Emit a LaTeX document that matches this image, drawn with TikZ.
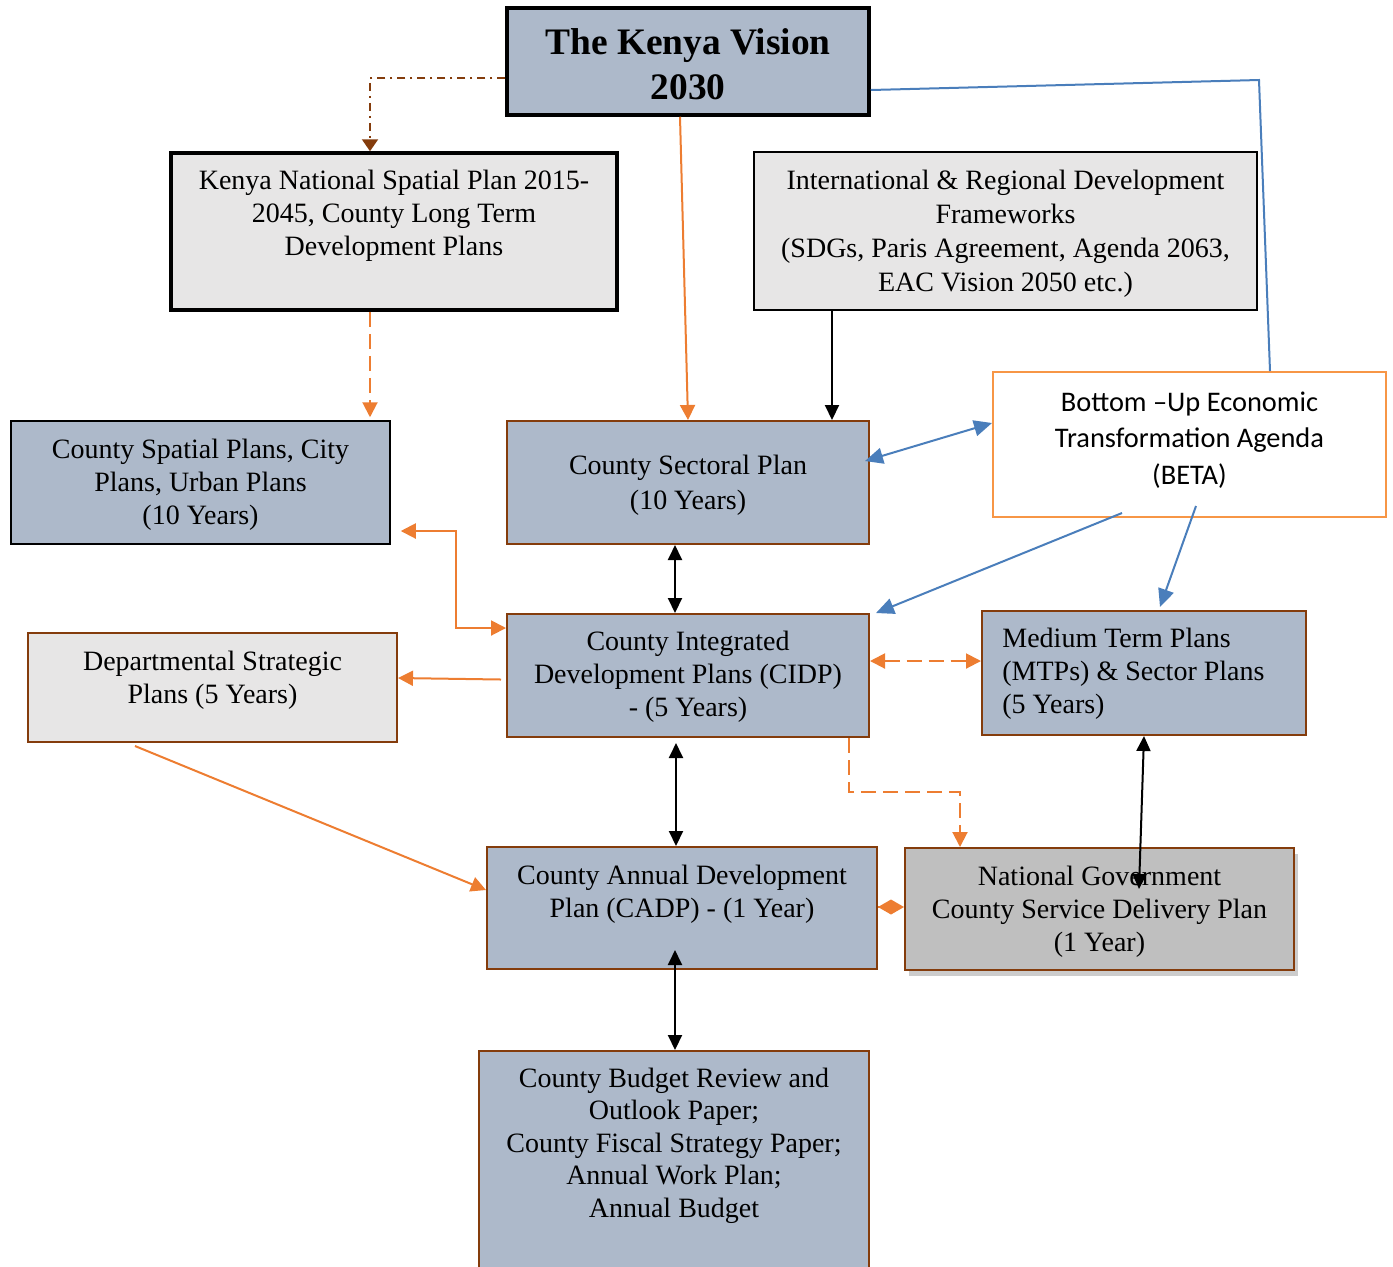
\documentclass[tikz,border=0pt]{standalone}
\usepackage{fontspec}
\setmainfont{Liberation Serif}
\newfontfamily\betafont{Carlito}
\usetikzlibrary{arrows.meta,shadows}

\definecolor{bluegrey}{HTML}{ADB9CA}
\definecolor{lightgrey}{HTML}{E7E6E6}
\definecolor{midgrey}{HTML}{BFBFBF}
\definecolor{brownline}{HTML}{843C0C}
\definecolor{orangeline}{HTML}{ED7D31}
\definecolor{betaorange}{HTML}{F79646}
\definecolor{blueline}{HTML}{4A7EBB}

\tikzstyle{plan} = [draw=brownline, fill=bluegrey, line width=1pt, inner sep=0]
\tikzstyle{txt} = [inner sep=0, yshift=-1.25pt, align=center, font=\fontsize{14}{16.5}\selectfont]
\tikzstyle{orangearr} = [orangeline, line width=1pt, -{Triangle[length=7.5pt,width=7.5pt]}]
\tikzstyle{orangedbl} = [orangeline, line width=1pt, {Triangle[length=7.5pt,width=7.5pt]}-{Triangle[length=7.5pt,width=7.5pt]}]
\tikzstyle{blackarr} = [black, line width=1pt, -{Triangle[length=7.5pt,width=7pt]}]
\tikzstyle{blackdbl} = [black, line width=1pt, {Triangle[length=7.5pt,width=7pt]}-{Triangle[length=7.5pt,width=7pt]}]
\tikzstyle{bluearr} = [blueline, line width=1pt, -{Triangle[length=9pt,width=8pt]}]
\tikzstyle{bluedbl} = [blueline, line width=1pt, {Triangle[length=9pt,width=8pt]}-{Triangle[length=9pt,width=8pt]}]
\tikzstyle{wordash} = [dash pattern=on 7.5pt off 3.5pt]

\begin{document}
\begin{tikzpicture}[x=0.5pt, y=-0.5pt]
\useasboundingbox (0,0) rectangle (1393,1266);
\clip (0,0) rectangle (1393,1266);

\node[plan, draw=black, line width=1.75pt, minimum width=181pt, minimum height=53.5pt] (vision) at (688,61.5) {};
\node[txt, font=\bfseries\fontsize{18.7}{22.5}\selectfont] (visionT) at (vision) {The Kenya Vision\\2030};

\node[plan, draw=black, line width=1.75pt, fill=lightgrey, minimum width=223pt, minimum height=78.5pt] (knsp) at (394,231.5) {};
\node[txt] (knspT) at ([yshift=9pt]knsp) {Kenya National Spatial Plan 2015-\\2045, County Long Term\\Development Plans};

\node[plan, draw=black, fill=lightgrey, minimum width=251.5pt, minimum height=79pt] (intl) at (1005.5,231) {};
\node[txt, font=\fontsize{14}{17}\selectfont] (intlT) at (intl) {International \& Regional Development\\Frameworks\\(SDGs, Paris Agreement, Agenda 2063,\\EAC Vision 2050 etc.)};

\node[plan, draw=betaorange, fill=white, minimum width=196.5pt, minimum height=72.5pt] (beta) at (1189.5,444.5) {};
\node[txt, font=\betafont\fontsize{14.2}{18.25}\selectfont] (betaT) at ([yshift=3.5pt]beta) {Bottom –Up Economic\\Transformation Agenda\\(BETA)};

\node[plan, draw=black, line width=0.75pt, minimum width=189.5pt, minimum height=61.5pt] (spatial) at (200.5,482.5) {};
\node[txt] (spatialT) at (spatial) {County Spatial Plans, City\\Plans, Urban Plans\\(10 Years)};

\node[plan, minimum width=181pt, minimum height=61.5pt] (sectoral) at (688,482.5) {};
\node[txt, font=\fontsize{14}{17.5}\selectfont] (sectoralT) at (sectoral) {County Sectoral Plan\\(10 Years)};

\node[plan, minimum width=181pt, minimum height=61.5pt] (cidp) at (688,675.5) {};
\node[txt] (cidpT) at ([yshift=0.5pt]cidp) {County Integrated\\Development Plans (CIDP)\\- (5 Years)};

\node[plan, minimum width=162pt, minimum height=62pt] (mtp) at (1144,673) {};
\node[txt, align=left, anchor=west] (mtpT) at ([xshift=10.5pt,yshift=1pt]mtp.west) {Medium Term Plans\\(MTPs) \& Sector Plans\\(5 Years)};

\node[plan, fill=lightgrey, minimum width=184.5pt, minimum height=54.5pt] (dept) at (212.5,687.5) {};
\node[txt] (deptT) at ([yshift=5pt]dept) {Departmental Strategic\\Plans (5 Years)};

\node[plan, minimum width=195pt, minimum height=61pt] (cadp) at (682,908) {};
\node[txt] (cadpT) at ([yshift=8pt]cadp) {County Annual Development\\Plan (CADP) - (1 Year)};

\node[plan, fill=midgrey, minimum width=194.5pt, minimum height=61pt,
  drop shadow={shadow xshift=2pt, shadow yshift=-3pt, fill=black!20, opacity=1}] (natgov) at (1099.5,909) {};
\node[txt] (natgovT) at (natgov) {National Government\\County Service Delivery Plan\\(1 Year)};

\node[plan, minimum width=195pt, minimum height=119.5pt] (budget) at (674,1170.5) {};
\node[txt, font=\fontsize{14}{16.25}\selectfont] (budgetT) at ([yshift=-46.5pt]budget.north) {County Budget Review and\\Outlook Paper;\\County Fiscal Strategy Paper;\\Annual Work Plan;\\Annual Budget};

\coordinate (bend) at (1259,80);

\draw[brownline, line width=1pt, dash pattern=on 4pt off 2.5pt on 1pt off 2.5pt, -{Triangle[length=6pt,width=8pt]}] ([yshift=-8.25pt]vision.west) -| ([xshift=-12pt]knsp.north);
\draw[orangearr] ([xshift=-4pt]vision.south) -- (sectoral.north);
\draw[blueline, line width=1pt] ([yshift=-14.25pt]vision.east) -- (bend) -- ([xshift=40.25pt]beta.north);
\draw[blackarr] ([xshift=-86.75pt]intl.south) -- ([xshift=-86.75pt]intl.south |- sectoral.north);
\draw[orangearr, wordash] ([xshift=-12pt]knsp.south) -- ([xshift=-12pt,yshift=1.5pt]knsp.south |- spatial.north);
\draw[bluedbl] ([xshift=-2.5pt,yshift=10.75pt]sectoral.east) -- ([yshift=10.75pt]beta.west);
\draw[blackdbl] ([xshift=-6.5pt]sectoral.south) -- ([xshift=-6.5pt]sectoral.south |- cidp.north);
\draw[orangedbl] ([xshift=5pt,yshift=-24.25pt]spatial.east) -- ++(55,0) |- ([yshift=23.75pt]cidp.west);
\draw[bluearr] ([xshift=-33.75pt,yshift=2.5pt]beta.south) -- ([xshift=3pt]cidp.north east);
\draw[bluearr] ([xshift=3.25pt,yshift=6pt]beta.south) -- ([xshift=8pt,yshift=1.5pt]mtp.north);
\draw[orangedbl, wordash] ([yshift=7.25pt]cidp.east) -- ([yshift=7.25pt]cidp.east -| mtp.west);
\draw[orangearr] ([xshift=-2.5pt,yshift=-2pt]cidp.west) -- ([yshift=4.75pt]dept.east);
\draw[orangearr, wordash] ([xshift=-10.5pt]cidp.south east) -- ++(0,54) -| ([xshift=-69.75pt]natgov.north);
\draw[blackdbl] ([xshift=-6pt,yshift=-2.5pt]cidp.south) -- ([xshift=-6pt]cidp.south |- cadp.north);
\draw[orangearr] ([xshift=-38.75pt,yshift=-1.5pt]dept.south) -- ([yshift=9pt]cadp.west);
\draw[blackdbl] (mtp.south) -- ([xshift=19.75pt,yshift=-21pt]natgov.north);
\draw[orangeline, line width=1pt, -{Diamond[length=13pt,width=7.5pt]}] ([yshift=0.5pt]cadp.east) -- ([yshift=0.5pt]cadp.east -| natgov.west);
\draw[blackdbl] ([xshift=-3.5pt,yshift=10pt]cadp.south) -- ([xshift=-3.5pt]cadp.south |- budget.north);
\end{tikzpicture}
\end{document}
